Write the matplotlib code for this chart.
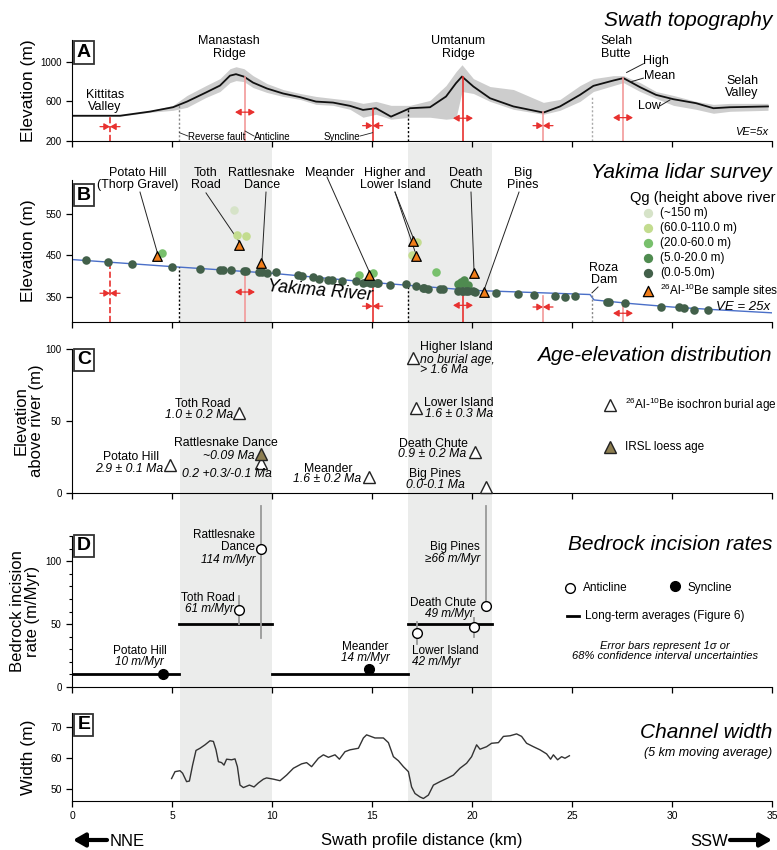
import matplotlib
matplotlib.use('Agg')
import matplotlib.pyplot as plt
from matplotlib.patches import Rectangle
from matplotlib.transforms import blended_transform_factory

plt.rcParams['font.family'] = ['Liberation Sans', 'DejaVu Sans']
plt.rcParams['mathtext.fontset'] = 'custom'
plt.rcParams['mathtext.rm'] = 'Liberation Sans'
plt.rcParams['mathtext.it'] = 'Liberation Sans:italic'

# --- A: swath topography (km, m)
swath_km = [0, 2.4, 3.9, 5.05, 5.75, 6.7, 7.4, 7.9, 8.2, 8.6, 9.05, 9.75, 10.55, 11.4, 12.2, 13.05,
            13.9, 14.55, 15.2, 15.95, 16.9, 17.9, 18.7, 19.2, 19.5, 20.07, 20.9, 22.07, 23.57, 24.4,
            25.4, 26.07, 27.07, 27.57, 28.4, 29.2, 30.07, 31.2, 32.07, 32.9, 34.8]
swath_mean = [455, 455, 497, 541, 598, 690, 760, 860, 875, 850, 790, 730, 680, 643, 598, 588,
              555, 514, 531, 446, 531, 541, 649, 784, 851, 750, 632, 549, 487, 549,
              666, 757, 811, 835, 744, 666, 622, 582, 531, 541, 549]
swath_high = [460, 460, 505, 560, 660, 760, 830, 930, 950, 930, 860, 780, 720, 680, 650, 630,
              610, 580, 600, 560, 560, 610, 760, 900, 970, 830, 750, 720, 590, 620,
              760, 830, 860, 860, 790, 700, 660, 600, 570, 580, 580]
swath_low = [450, 450, 490, 510, 540, 640, 700, 790, 810, 800, 740, 690, 650, 620, 570, 560,
             520, 440, 470, 420, 440, 440, 420, 430, 700, 680, 600, 520, 470, 510,
             600, 700, 760, 790, 700, 630, 560, 520, 480, 500, 510]

# folds and faults
fold_km = [1.9, 8.65, 15.03, 19.55, 23.55, 27.55]
fold_kind = ['syn', 'anti', 'syn', 'anti', 'syn', 'anti']
fold_top_A = [455, 850, 525, 845, 490, 835]
fold_arrow_A = [345, 491, 355, 430, 355, 436]
fold_top_B = [433, 412, 384, 367, 352, 336]
fold_arrow_B = [359, 362, 328, 330, 326, 311]
fault_km = [5.37, 16.8, 25.98]
fault_top_A = [565, 535, 650]
fault_top_B = [421, 378, 356]

# --- B: lidar survey
river_km = [0, 5, 10, 15, 20, 25.9, 26.1, 28, 30, 32, 35]
river_elev = [440, 423, 407, 385, 366, 356, 343, 334, 326, 320, 312]
qg0_km = [0.7, 1.82, 2.98, 5.0, 6.42, 7.4, 7.53, 7.93, 8.62, 8.68, 9.37, 9.5, 9.73, 10.2, 11.28,
          11.48, 12.07, 12.37, 12.82, 13.0, 13.52, 14.18, 14.57, 14.7, 14.9, 14.98, 15.23, 15.32,
          15.9, 16.7, 17.18, 17.57, 17.6, 17.82, 18.4, 18.57, 19.32, 19.48, 19.57, 19.7, 19.82,
          20.07, 20.15, 21.2, 22.32, 23.12, 24.15, 24.65, 25.15, 26.73, 26.85, 27.65, 29.45,
          30.35, 30.6, 31.1, 31.8]
qg0_elev = [439, 433, 430, 422, 417, 415, 415, 414, 412, 412, 409, 409, 407, 409, 403,
            400, 397, 393, 391, 391, 389, 388, 384, 385, 383, 383, 383, 384,
            378, 382, 376, 372, 371, 369, 369, 369, 365, 364, 365, 364, 365,
            365, 363, 359, 357, 355, 352, 350, 352, 338, 337, 335, 326,
            325, 323, 320, 320]
qg5_km = [19.3, 19.45, 19.62, 19.8, 19.5]
qg5_elev = [381, 387, 391, 379, 384]
qg20_km = [4.5, 14.37, 15.07, 18.2]
qg20_elev = [455, 404, 407, 409]
qg60_km = [8.27, 8.7, 16.98, 17.23]
qg60_elev = [500, 497, 451, 483]
qg150_km = [8.1]
qg150_elev = [559]
site_km = [4.27, 8.37, 9.45, 14.87, 17.07, 17.18, 20.1, 20.62]
site_elev = [449, 475, 431, 403, 484, 448, 407, 362]

# --- C: age-elevation
age_km = [4.9, 8.37, 9.45, 14.87, 17.07, 17.18, 20.15, 20.7]
age_height = [19.5, 55.8, 20.6, 11.3, 93.5, 58.8, 28.2, 4.4]
irsl_km = [9.45]
irsl_height = [26.9]

# --- D: incision rates
rate_km = [4.57, 8.37, 9.45, 14.87, 17.23, 20.12, 20.7]
rate_val = [10, 61, 110, 14, 43, 48, 64]
rate_lo = [10, 50, 39, 14, 34, 40, 64]
rate_hi = [10, 72, 144, 14, 52, 55, 144]
rate_fold = ['syn', 'anti', 'anti', 'syn', 'anti', 'anti', 'anti']
avg_start = [0, 5.37, 10.0, 16.8]
avg_end = [5.37, 10.0, 16.8, 21.0]
avg_val = [10, 50, 10, 50]

# --- E: channel width
width_km = [4.98, 5.15, 5.4, 5.53, 5.73, 5.87, 6.03, 6.2, 6.4, 6.65, 6.9, 7.07, 7.2, 7.32, 7.48,
            7.6, 7.73, 7.98, 8.15, 8.27, 8.4, 8.57, 8.87, 9.1, 9.32, 9.57, 9.73, 10.07, 10.4,
            10.73, 11.07, 11.48, 11.73, 11.98, 12.32, 12.57, 12.82, 13.15, 13.37, 13.65, 13.9,
            14.32, 14.57, 14.73, 15.15, 15.57, 15.82, 16.07, 16.32, 16.57, 16.82, 16.98, 17.15,
            17.4, 17.57, 17.82, 18.07, 18.4, 18.73, 19.07, 19.4, 19.73, 19.98, 20.23, 20.4,
            20.73, 20.98, 21.32, 21.57, 21.9, 22.23, 22.48, 22.73, 23.07, 23.4, 23.73, 23.93,
            24.07, 24.28, 24.48, 24.65, 24.87]
width_m = [53.4, 55.6, 55.9, 55.1, 52.4, 52.6, 57.7, 62.4, 63.1, 64.2, 65.5, 65.3, 62.6, 58.8, 58.5,
           57.7, 59.6, 59.4, 59.7, 57.2, 51.3, 50.5, 51.3, 50.7, 52.0, 53.2, 53.6, 53.2, 52.7,
           54.5, 56.7, 58.1, 58.5, 57.2, 59.9, 61.0, 60.2, 61.0, 59.6, 62.0, 62.6,
           63.1, 66.4, 67.4, 66.4, 66.4, 64.9, 60.4, 59.1, 57.2, 55.6, 50.7, 48.6,
           47.5, 47.0, 48.1, 51.3, 52.4, 53.4, 54.5, 56.7, 58.3, 60.4, 64.2, 62.8,
           63.6, 64.7, 64.9, 66.9, 67.1, 67.7, 66.9, 64.7, 63.6, 62.6, 61.3, 59.6,
           61.0, 59.4, 60.4, 59.9, 60.7]

shade_start = [5.4, 16.8]
shade_end = [10.0, 21.0]

W, H = 777.0, 850.0
RED = '#e8312f'
PINK = '#f29a9a'
fold_color = [RED, PINK, RED, RED, PINK, PINK]
fold_style = ['--', '-', '-', '-', '-', '-']


def rect(top, bottom):
    return [72 / W, 1 - bottom / H, 700 / W, (bottom - top) / H]


fig = plt.figure(figsize=(7.77, 8.5), dpi=100)
axA = fig.add_axes(rect(40, 141))
axB = fig.add_axes(rect(180, 322))
axC = fig.add_axes(rect(349, 493))
axD = fig.add_axes(rect(536, 687))
axE = fig.add_axes(rect(713, 801))

for ax in [axA, axB, axC, axD, axE]:
    ax.set_facecolor('none')
    ax.set_xlim(0, 35)
    ax.set_xticks(range(0, 36, 5))
    ax.spines['top'].set_visible(False)
    ax.spines['right'].set_visible(False)
    ax.tick_params(direction='out', length=4, width=0.9, labelsize=7)
    if ax is not axE:
        ax.tick_params(axis='x', labelbottom=False)

# grey bands behind all panels
tr = blended_transform_factory(axE.transData, fig.transFigure)
for s, e in zip(shade_start, shade_end):
    fig.add_artist(Rectangle((s, 1 - 801 / H), e - s, (801 - 143) / H, transform=tr,
                             facecolor='#ebeceb', edgecolor='none', zorder=-1))


def fold_arrows(ax, x, y, kind, color, dx=0.5):
    ap = dict(arrowstyle='-|>,head_length=0.35,head_width=0.2', color=color, lw=0.9,
              shrinkA=0, shrinkB=0)
    for sgn in (-1, 1):
        if kind == 'anti':
            ax.annotate('', xy=(x + sgn * dx, y), xytext=(x, y), arrowprops=ap)
        else:
            ax.annotate('', xy=(x, y), xytext=(x + sgn * dx, y), arrowprops=ap)


def box_label(ax, letter, yf):
    ax.text(0.017, yf, letter, transform=ax.transAxes, fontsize=14, fontweight='bold',
            ha='center', va='center',
            bbox=dict(boxstyle='square,pad=0.15', fc='white', ec='#333333', lw=1.3))


# ---------------- A
axA.fill_between(swath_km, swath_low, swath_high, color='#cdcdcd', lw=0)
axA.plot(swath_km, swath_mean, color='#111111', lw=1.3)
axA.set_ylim(200, 1220)
axA.set_yticks([200, 600, 1000])
axA.set_ylabel('Elevation (m)', fontsize=12.5)
axA.yaxis.set_label_coords(-0.051, 0.5)
for i, x in enumerate(fold_km):
    axA.plot([x, x], [200, fold_top_A[i]], color=fold_color[i], ls=fold_style[i], lw=1.2)
    fold_arrows(axA, x, fold_arrow_A[i], fold_kind[i], RED)
for x, t, c in zip(fault_km, fault_top_A, ['#888888', 'black', '#aaaaaa']):
    axA.plot([x, x], [200, t], color=c, ls=(0, (1.5, 1.5)), lw=1)
box_label(axA, 'A', 0.88)
kw = dict(fontsize=9, ha='center', va='center', linespacing=1.05)
axA.text(1.65, 605, 'Kittitas\nValley', **kw)
axA.text(7.85, 1142, 'Manastash\nRidge', **kw)
axA.text(19.3, 1142, 'Umtanum\nRidge', **kw)
axA.text(27.2, 1142, 'Selah\nButte', **kw)
axA.text(33.5, 747, 'Selah\nValley', **kw)
axA.text(28.55, 1010, 'High', fontsize=9, va='center')
axA.text(28.6, 858, 'Mean', fontsize=9, va='center')
axA.text(28.3, 555, 'Low', fontsize=9, va='center')
axA.plot([28.57, 27.73], [980, 892], color='#222222', lw=0.7)
axA.plot([28.57, 27.98], [835, 800], color='#222222', lw=0.7)
axA.plot([29.4, 29.9], [555, 615], color='#222222', lw=0.7)
axA.text(34.8, 291, 'VE=5x', fontsize=8, style='italic', ha='right', va='center')
axA.text(5.8, 245, 'Reverse fault', fontsize=7, va='center')
axA.plot([5.37, 5.8], [284, 250], color='#222222', lw=0.6)
axA.text(9.1, 245, 'Anticline', fontsize=7, va='center')
axA.plot([8.65, 9.1], [301, 250], color='#222222', lw=0.6)
axA.text(14.4, 245, 'Syncline', fontsize=7, va='center', ha='right')
axA.plot([14.4, 15.03], [250, 284], color='#222222', lw=0.6)
fig.text(772 / W, 1 - 20 / H, 'Swath topography', ha='right', va='center', fontsize=15,
         style='italic')

# ---------------- B
axB.plot(river_km, river_elev, color='#4a6fc8', lw=1.0, zorder=2)
for i, x in enumerate(fold_km):
    axB.plot([x, x], [290, fold_top_B[i]], color=fold_color[i], ls=fold_style[i], lw=1.2)
    fold_arrows(axB, x, fold_arrow_B[i], fold_kind[i], RED)
for x, t, c in zip(fault_km, fault_top_B, ['black', 'black', '#888888']):
    axB.plot([x, x], [290, t], color=c, ls=(0, (1.5, 1.5)), lw=1)
ds = 38
axB.scatter(qg150_km, qg150_elev, s=ds, color='#d6e3c8', zorder=3, lw=0)
axB.scatter(qg60_km, qg60_elev, s=ds, color='#c3dc8f', zorder=3, lw=0)
axB.scatter(qg20_km, qg20_elev, s=ds, color='#78c06c', zorder=3, lw=0)
axB.scatter(qg5_km, qg5_elev, s=ds, color='#4f8b50', zorder=3, lw=0)
axB.scatter(qg0_km, qg0_elev, s=ds, color='#42604a', zorder=3, lw=0)
axB.scatter(site_km, site_elev, s=48, marker='^', color='#f07d1a', edgecolor='black',
            lw=0.9, zorder=4)
axB.set_ylim(290, 631)
axB.set_yticks([350, 450, 550])
axB.set_ylabel('Elevation (m)', fontsize=12.5)
axB.yaxis.set_label_coords(-0.051, 0.5)
box_label(axB, 'B', 0.894)
axB.text(3.3, 634, 'Potato Hill\n(Thorp Gravel)', clip_on=False, **kw)
axB.text(6.68, 634, 'Toth\nRoad', **kw)
axB.text(9.48, 634, 'Rattlesnake\nDance', **kw)
axB.text(12.9, 648, 'Meander', **kw)
axB.text(16.15, 634, 'Higher and\nLower Island', **kw)
axB.text(19.7, 634, 'Death\nChute', **kw)
axB.text(22.55, 634, 'Big\nPines', **kw)
axB.text(26.6, 405, 'Roza\nDam', **kw)
lk = dict(color='#222222', lw=0.7, clip_on=False)
axB.plot([3.4, 4.27], [602, 456], **lk)
axB.plot([6.7, 8.37], [600, 482], **lk)
axB.plot([9.7, 9.5], [602, 438], **lk)
axB.plot([12.75, 14.87], [638, 410], **lk)
axB.plot([16.15, 17.07], [602, 491], **lk)
axB.plot([16.15, 17.18], [602, 455], **lk)
axB.plot([19.95, 20.1], [602, 414], **lk)
axB.plot([22.35, 20.62], [602, 369], **lk)
axB.plot([26.3, 26.0], [374, 360], **lk)
axB.text(12.4, 365, 'Yakima River', fontsize=13, style='italic', rotation=-5,
         ha='center', va='center')
axB.text(34.9, 327, 'VE = 25x', fontsize=9.5, style='italic', ha='right', va='center')
fig.text(772 / W, 1 - 173 / H, 'Yakima lidar survey', ha='right', va='center', fontsize=15,
         style='italic')
axB.text(27.9, 588, 'Qg (height above river', fontsize=10.5, va='center', clip_on=False)
leg_y = [552, 516, 480, 444, 408]
leg_c = ['#d6e3c8', '#c3dc8f', '#78c06c', '#4f8b50', '#42604a']
leg_t = ['(~150 m)', '(60.0-110.0 m)', '(20.0-60.0 m)', '(5.0-20.0 m)', '(0.0-5.0m)']
for y, c, t in zip(leg_y, leg_c, leg_t):
    axB.scatter([28.8], [y], s=45, color=c, lw=0, clip_on=False)
    axB.text(29.4, y, t, fontsize=8.5, va='center')
axB.scatter([28.8], [364], s=55, marker='^', color='#f07d1a', edgecolor='black', lw=0.9)
axB.text(29.4, 364, r'$^{26}$Al-$^{10}$Be sample sites', fontsize=8.5, va='center')

# ---------------- C
axC.plot(age_km, age_height, ls='none', marker='^', ms=9, mfc='white', mec='#222222',
         mew=1.0, clip_on=False, zorder=3)
axC.plot(irsl_km, irsl_height, ls='none', marker='^', ms=9, mfc='#8c7d50', mec='#222222',
         mew=1.0, zorder=4)
axC.set_ylim(0, 100)
axC.set_yticks([0, 50, 100])
axC.set_ylabel('Elevation\nabove river (m)', fontsize=12, linespacing=1.0)
axC.yaxis.set_label_coords(-0.04, 0.5)
box_label(axC, 'C', 0.924)
k9 = dict(fontsize=8.8, va='center')
ki = dict(fontsize=8.8, va='center', style='italic')
axC.text(6.55, 62, 'Toth Road', ha='center', **k9)
axC.text(8.05, 54, '1.0 ± 0.2 Ma', ha='right', **ki)
axC.text(7.7, 35, 'Rattlesnake Dance', ha='center', **k9)
axC.text(9.15, 26, '~0.09 Ma', ha='right', **ki)
axC.text(7.73, 13, '0.2 +0.3/-0.1 Ma', ha='center', **ki)
axC.text(2.93, 25.2, 'Potato Hill', ha='center', **k9)
axC.text(4.57, 17, '2.9 ± 0.1 Ma', ha='right', **ki)
axC.text(12.8, 17, 'Meander', ha='center', **k9)
axC.text(14.48, 9.5, '1.6 ± 0.2 Ma', ha='right', **ki)
axC.text(19.2, 101.5, 'Higher Island', ha='center', **k9)
axC.text(17.4, 92.5, 'no burial age,', ha='left', **ki)
axC.text(18.6, 85.5, '> 1.6 Ma', ha='center', **ki)
axC.text(19.35, 62.3, 'Lower Island', ha='center', **k9)
axC.text(19.35, 54.9, '1.6 ± 0.3 Ma', ha='center', **ki)
axC.text(18.07, 34, 'Death Chute', ha='center', **k9)
axC.text(18.0, 26.9, '0.9 ± 0.2 Ma', ha='center', **ki)
axC.text(18.15, 13.2, 'Big Pines', ha='center', **k9)
axC.text(18.15, 5.6, '0.0-0.1 Ma', ha='center', **ki)
fig.text(772 / W, 1 - 355 / H, 'Age-elevation distribution', ha='right', va='center',
         fontsize=15, style='italic')
axC.plot([26.9], [61], marker='^', ms=9, mfc='white', mec='#222222', mew=1.0)
axC.text(27.65, 61, r'$^{26}$Al-$^{10}$Be isochron burial age', fontsize=8.5, va='center')
axC.plot([26.9], [32], marker='^', ms=9, mfc='#8c7d50', mec='#222222', mew=1.0)
axC.text(27.65, 32, 'IRSL loess age', fontsize=8.5, va='center')

# ---------------- D
for s, e, v in zip(avg_start, avg_end, avg_val):
    axD.plot([s, e], [v, v], color='black', lw=2.0, zorder=2)
for x, lo, hi in zip(rate_km, rate_lo, rate_hi):
    axD.plot([x, x], [lo, hi], color='#999999', lw=1.3, clip_on=False, zorder=2)
for x, v, f in zip(rate_km, rate_val, rate_fold):
    axD.plot([x], [v], marker='o', ms=7, mfc='white' if f == 'anti' else 'black',
             mec='black', mew=1.0, zorder=3)
axD.set_ylim(0, 120)
axD.set_yticks([0, 50, 100])
axD.set_yticks(range(0, 121, 10), minor=True)
axD.tick_params(which='minor', direction='out', length=2.5, width=0.8)
axD.set_ylabel('Bedrock incision\nrate (m/Myr)', fontsize=12, linespacing=1.0)
axD.yaxis.set_label_coords(-0.045, 0.5)
box_label(axD, 'D', 0.934)
k8 = dict(fontsize=8.5, va='center')
k8i = dict(fontsize=8.5, va='center', style='italic')
axD.text(9.15, 116, 'Rattlesnake\nDance', ha='right', linespacing=1.0, **k8)
axD.text(9.15, 101, '114 m/Myr', ha='right', **k8i)
axD.text(8.15, 71, 'Toth Road', ha='right', **k8)
axD.text(8.07, 62, '61 m/Myr', ha='right', **k8i)
axD.text(3.37, 28.8, 'Potato Hill', ha='center', **k8)
axD.text(3.37, 19.6, '10 m/Myr', ha='center', **k8i)
axD.text(14.65, 31.5, 'Meander', ha='center', **k8)
axD.text(14.65, 22.8, '14 m/Myr', ha='center', **k8i)
axD.text(20.4, 110.9, 'Big Pines', ha='right', **k8)
axD.text(20.4, 101.6, '≥66 m/Myr', ha='right', **k8i)
axD.text(18.53, 66.4, 'Death Chute', ha='center', **k8)
axD.text(20.07, 58, '49 m/Myr', ha='right', **k8i)
axD.text(16.98, 28.8, 'Lower Island', ha='left', **k8)
axD.text(16.98, 20, '42 m/Myr', ha='left', **k8i)
fig.text(772 / W, 1 - 545 / H, 'Bedrock incision rates', ha='right', va='center',
         fontsize=15, style='italic')
axD.plot([24.9], [79], marker='o', ms=7, mfc='white', mec='black', mew=1.0)
axD.text(25.53, 79, 'Anticline', **k8)
axD.plot([30.15], [80], marker='o', ms=7, mfc='black', mec='black', mew=1.0)
axD.text(30.77, 79, 'Syncline', **k8)
axD.plot([24.77, 25.37], [56.3, 56.3], color='black', lw=2)
axD.text(25.65, 56.3, 'Long-term averages (Figure 6)', **k8)
axD.text(29.65, 28.5, 'Error bars represent 1σ or\n68% confidence interval uncertainties',
         fontsize=8, style='italic', ha='center', va='center', linespacing=0.95)

# ---------------- E
axE.plot(width_km, width_m, color='#333333', lw=1.0)
axE.set_ylim(46.2, 74.4)
axE.set_yticks([50, 60, 70])
axE.set_ylabel('Width (m)', fontsize=12.5)
axE.yaxis.set_label_coords(-0.051, 0.5)
axE.tick_params(labelsize=7.5)
box_label(axE, 'E', 0.864)
fig.text(772 / W, 1 - 733 / H, 'Channel width', ha='right', va='center', fontsize=15,
         style='italic')
fig.text(772 / W, 1 - 753 / H, '(5 km moving average)', ha='right', va='center', fontsize=9,
         style='italic')

# bottom labels
fig.text(422 / W, 1 - 841 / H, 'Swath profile distance (km)', ha='center', va='center',
         fontsize=12)
fig.text(110 / W, 1 - 841 / H, 'NNE', ha='left', va='center', fontsize=12)
fig.text(728 / W, 1 - 841 / H, 'SSW', ha='right', va='center', fontsize=12)
ap = dict(arrowstyle='-|>,head_length=0.7,head_width=0.4', color='black', lw=3,
          shrinkA=0, shrinkB=0)
fig.add_artist(matplotlib.text.Annotation('', xy=(73 / W, 1 - 840 / H),
                                          xytext=(107 / W, 1 - 840 / H),
                                          xycoords='figure fraction',
                                          textcoords='figure fraction', arrowprops=ap))
fig.add_artist(matplotlib.text.Annotation('', xy=(772 / W, 1 - 840 / H),
                                          xytext=(730 / W, 1 - 840 / H),
                                          xycoords='figure fraction',
                                          textcoords='figure fraction', arrowprops=ap))

fig.savefig('out.png', dpi=100)
